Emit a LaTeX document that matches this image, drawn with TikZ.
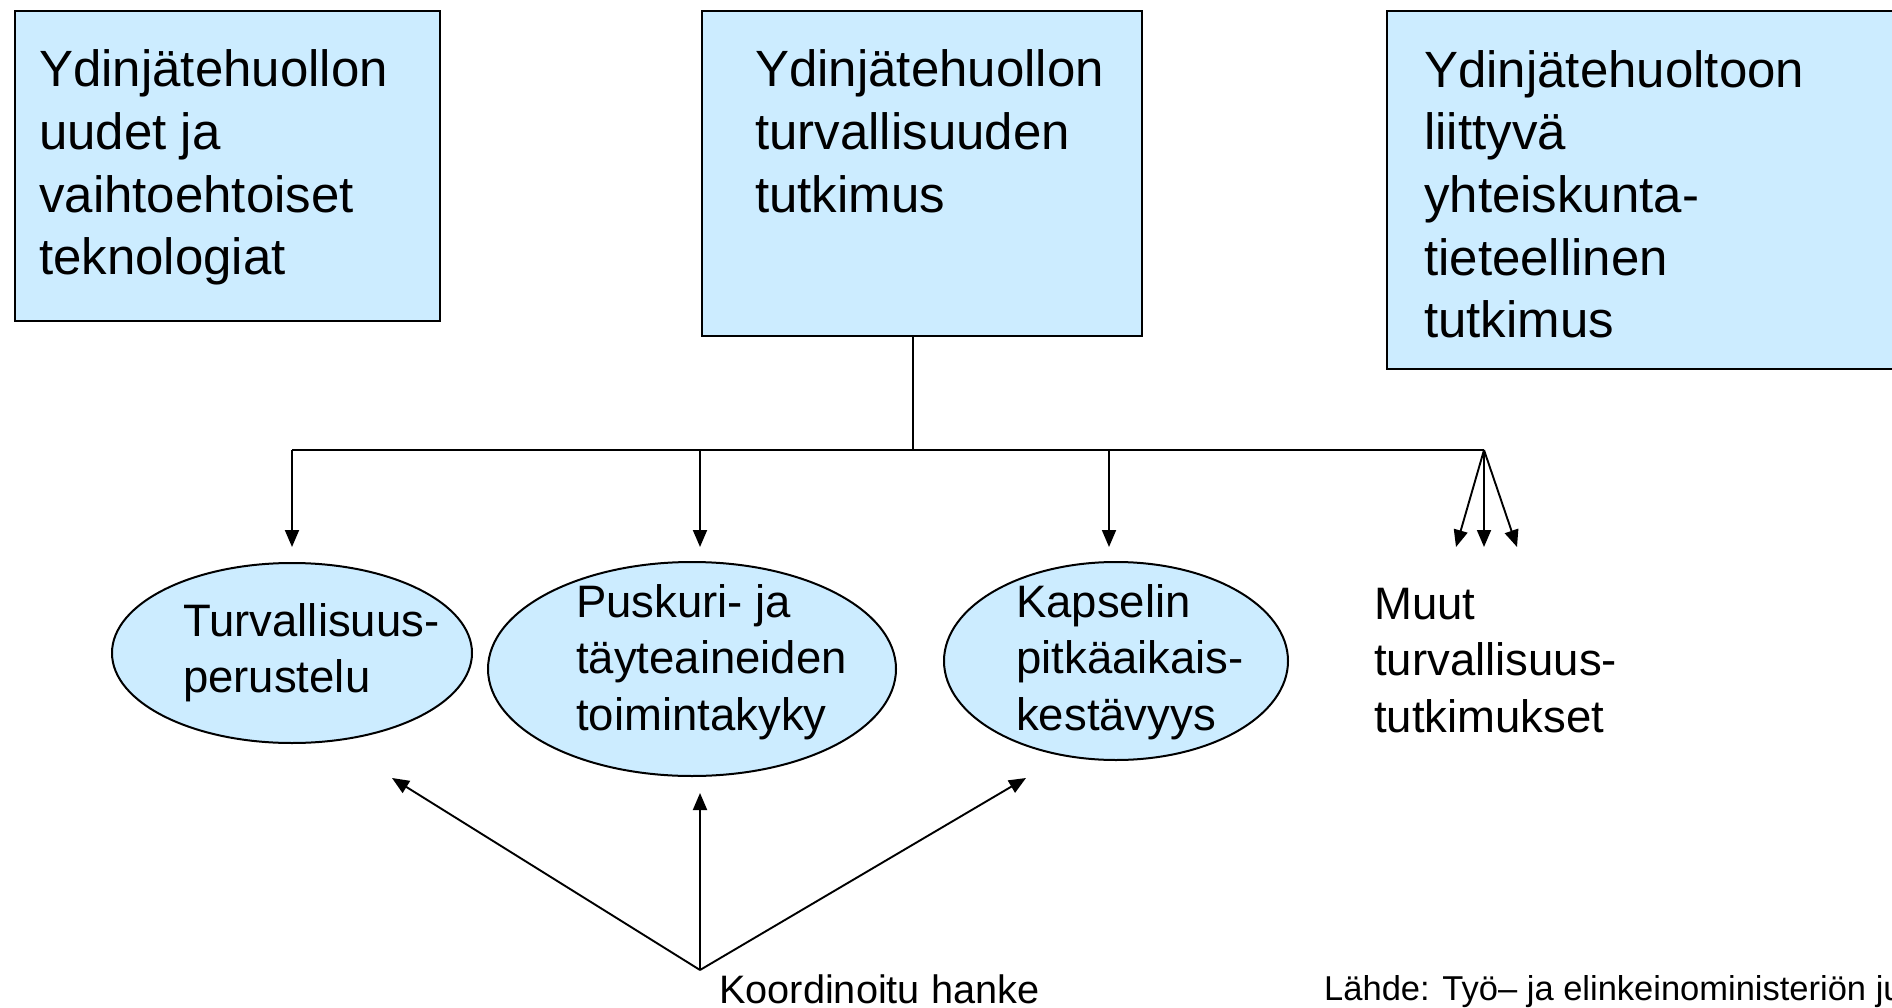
\documentclass[tikz,border=0pt]{standalone}
\usepackage{fontspec}
\setmainfont{Liberation Sans}
\usetikzlibrary{shapes.geometric,arrows.meta}
\definecolor{boxblue}{HTML}{CCECFF}
\begin{document}
\begin{tikzpicture}[x=1pt,y=-1pt,
  box/.style={draw=black, line width=2pt, fill=boxblue, inner sep=0pt, anchor=north west},
  oval/.style={ellipse, draw=black, line width=2pt, fill=boxblue, inner sep=0pt},
  bigtxt/.style={anchor=base west, inner sep=0pt, align=left, font=\fontsize{51}{62.7}\selectfont},
  midtxt/.style={anchor=base west, inner sep=0pt, align=left, font=\fontsize{45.5}{56.5}\selectfont},
  smalltxt/.style={anchor=base west, inner sep=0pt, font=\fontsize{39.7}{48}\selectfont},
  srctxt/.style={anchor=base west, inner sep=0pt, font=\fontsize{34.5}{42}\selectfont},
  link/.style={line width=2.4pt},
  arr/.style={line width=1.9pt, -{Triangle[length=17pt,width=14pt]}}]
\path[use as bounding box] (0,0) rectangle (1892,1008);
\begin{scope}
\clip (0,0) rectangle (1892,1008);
% top boxes
\node[box, minimum width=425pt, minimum height=310pt] (b1) at (14,10) {};
\node[box, minimum width=440pt, minimum height=325pt] (b2) at (701,10) {};
\node[box, minimum width=520pt, minimum height=358pt] (b3) at (1386,10) {};
% text nodes: anchor is the baseline of the last line
\node[bigtxt] (t1) at (39,275) {Ydinjätehuollon\\uudet ja\\vaihtoehtoiset\\teknologiat};
\node[bigtxt] (t2) at (755,212.4) {Ydinjätehuollon\\turvallisuuden\\tutkimus};
\node[bigtxt] (t3) at (1424,337.8) {Ydinjätehuoltoon\\liittyvä\\yhteiskunta-\\tieteellinen\\tutkimus};
% ellipses
\node[oval, minimum width=360pt, minimum height=180pt] (e1) at (292,653) {};
\node[oval, minimum width=408pt, minimum height=214pt] (e2) at (692,669) {};
\node[oval, minimum width=344pt, minimum height=198pt] (e3) at (1116,661) {};
\node[midtxt] (et1) at (183,692.5) {Turvallisuus-\\perustelu};
\node[midtxt] (et2) at (576,730) {Puskuri- ja\\täyteaineiden\\toimintakyky};
\node[midtxt] (et3) at (1016,730) {Kapselin\\pitkäaikais-\\kestävyys};
\node[midtxt] (mt) at (1374,732) {Muut\\turvallisuus-\\tutkimukset};
% tree connectors
\coordinate (hub) at (913,450);
\coordinate (hl) at (292,450);
\coordinate (hr) at (1484,450);
\draw[link] (b2.south -| hub) -- (hub);
\draw[link] (hl) -- (hr);
\coordinate (a1) at (292,547);
\coordinate (a2) at (700,547);
\coordinate (a3) at (1109,547);
\coordinate (a2t) at (700,450);
\coordinate (a3t) at (1109,450);
\draw[arr] (hl) -- (a1);
\draw[arr] (a2t) -- (a2);
\draw[arr] (a3t) -- (a3);
\coordinate (f1) at (1456,547);
\coordinate (f2) at (1484,547);
\coordinate (f3) at (1517,547);
\draw[arr] (hr) -- (f1);
\draw[arr] (hr) -- (f2);
\draw[arr] (hr) -- (f3);
% coordinated project
\coordinate (k) at (700,970);
\coordinate (k1) at (392,778);
\coordinate (k2) at (700,793);
\coordinate (k3) at (1026,778);
\draw[arr] (k) -- (k1);
\draw[arr] (k) -- (k2);
\draw[arr] (k) -- (k3);
\node[smalltxt] (kt) at (719,1003) {Koordinoitu hanke};
\node[srctxt] (src) at (1324,1000) {Lähde: Työ– ja elinkeinoministeriön julkaisuja};
\end{scope}
\end{tikzpicture}
\end{document}
